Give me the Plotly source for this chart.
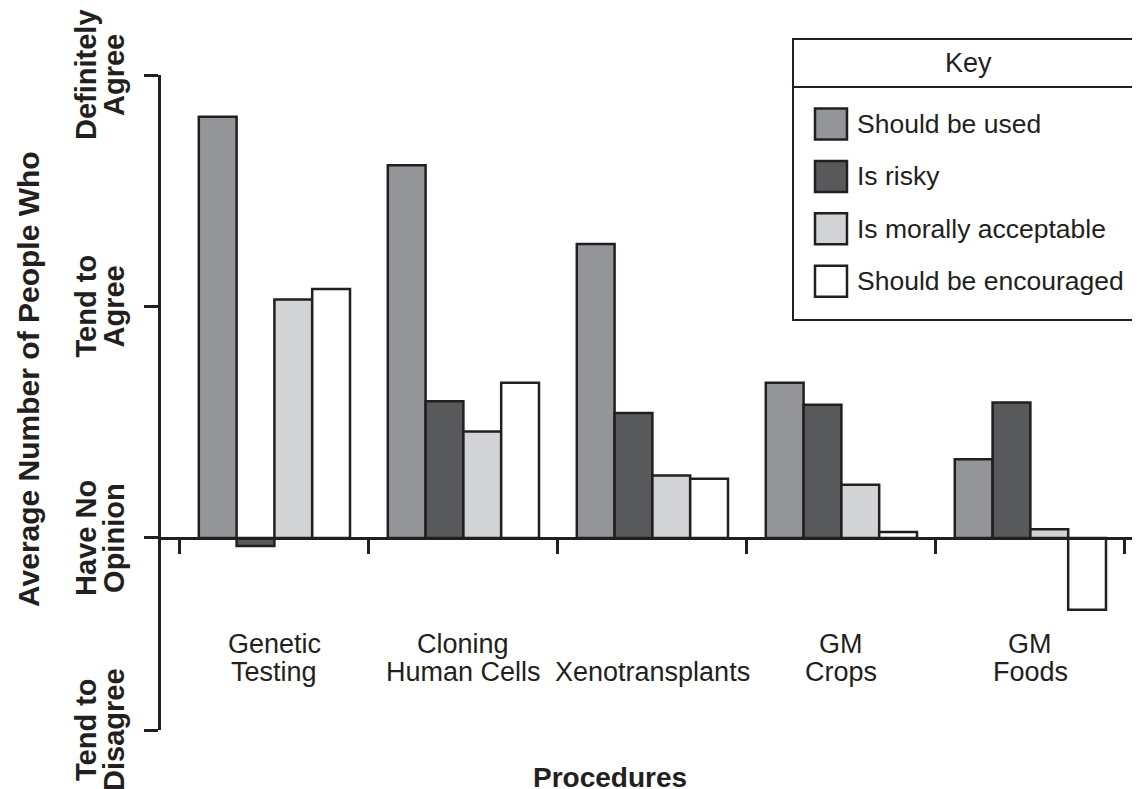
import plotly.graph_objects as go

# ---------------- data ----------------
categories = [["Genetic", "Testing"], ["Cloning", "Human Cells"], ["Xenotransplants"],
              ["GM", "Crops"], ["GM", "Foods"]]
series_names = ["Should be used", "Is risky", "Is morally acceptable", "Should be encouraged"]
should_be_used = [1.82, 1.61, 1.27, 0.67, 0.34]
is_risky = [-0.035, 0.59, 0.54, 0.575, 0.585]
morally_acceptable = [1.03, 0.46, 0.27, 0.23, 0.037]
should_be_encouraged = [1.075, 0.67, 0.256, 0.025, -0.31]
y_tick_values = [2, 1, 0, -0.83]
y_tick_labels = [["Definitely", "Agree"], ["Tend to", "Agree"], ["Have No", "Opinion"],
                 ["Tend to", "Disagree"]]
y_title = "Average Number of People Who"
x_title = "Procedures"
key_title = "Key"

series_values = [should_be_used, is_risky, morally_acceptable, should_be_encouraged]
colors = ["#939598", "#58595b", "#d1d3d4", "#ffffff"]
edge = "#231f20"
FONT = "Liberation Sans, Arial, Helvetica, sans-serif"

OFF = 8  # page body margin
W, H = 1140 - OFF, 789 - OFF
ML, MR, MT, MB = 161 - OFF, 0, 75 - OFF, 59
PW, PH = W - ML - MR, H - MT - MB


def px_x(xp):
    return (xp - OFF - ML) / PW


def px_y(yp):
    return (H - MB - (yp - OFF)) / PH


xpos = list(range(len(categories)))
fig = go.Figure()
for name, vals, col in zip(series_names, series_values, colors):
    fig.add_trace(go.Bar(x=xpos, y=vals, name=name, showlegend=False,
                         marker=dict(color=col, line=dict(color=edge, width=2.5))))

ymin, ymax = min(y_tick_values), max(y_tick_values)
fig.update_layout(
    width=W, height=H,
    margin=dict(l=ML, r=MR, t=MT, b=MB, pad=0),
    paper_bgcolor="white", plot_bgcolor="white",
    bargap=0.2, bargroupgap=0,
    font=dict(family=FONT, color=edge),
    xaxis=dict(range=[-0.6, 4.58], anchor="free", position=(0 - ymin) / (ymax - ymin),
               showline=True, linecolor=edge, linewidth=2.5, showgrid=False, zeroline=False,
               tickmode="array", tickvals=[i - 0.5 for i in range(len(categories) + 1)],
               ticktext=[""] * (len(categories) + 1), ticks="outside", ticklen=14,
               tickwidth=2.5, tickcolor=edge),
    yaxis=dict(range=[ymin, ymax], showline=True, linecolor=edge, linewidth=2.5,
               showgrid=False, zeroline=False, tickmode="array", tickvals=y_tick_values,
               ticktext=[""] * len(y_tick_values), ticks="outside", ticklen=14,
               tickwidth=2.5, tickcolor=edge),
)

ann = []
# y tick labels (rotated, two lines each); y position in reference pixels
y_pix = lambda v: 730 - (v - ymin) / (ymax - ymin) * PH
for v, lines in zip(y_tick_values, y_tick_labels):
    for j, line in enumerate(lines):
        ann.append(dict(text=f"<b>{line}</b>", x=px_x(86 + 28 * j), y=px_y(y_pix(v)),
                        xref="paper", yref="paper", textangle=-90, showarrow=False,
                        xanchor="center", yanchor="middle",
                        font=dict(size=29, family=FONT, color=edge)))
# y title
ann.append(dict(text=f"<b>{y_title}</b>", x=px_x(28), y=px_y(379), xref="paper", yref="paper",
                textangle=-90, showarrow=False, xanchor="center", yanchor="middle",
                font=dict(size=30, family=FONT, color=edge)))
# category labels
for i, lines in enumerate(categories):
    for j, line in enumerate(lines):
        ann.append(dict(text=line, x=xpos[i], y=px_y(672 if len(lines) == 1 else 644 + 28 * j),
                        xref="x", yref="paper", showarrow=False, xanchor="center",
                        yanchor="middle", font=dict(size=27, family=FONT, color=edge)))
# x title
ann.append(dict(text=f"<b>{x_title}</b>", x=px_x(610), y=px_y(777), xref="paper", yref="paper",
                showarrow=False, xanchor="center", yanchor="middle",
                font=dict(size=28, family=FONT, color=edge)))

# key box
shapes = [
    dict(type="rect", xref="paper", yref="paper", x0=px_x(793), x1=px_x(1145),
         y0=px_y(320), y1=px_y(39), line=dict(color=edge, width=2), fillcolor="white"),
    dict(type="line", xref="paper", yref="paper", x0=px_x(793), x1=px_x(1145),
         y0=px_y(87), y1=px_y(87), line=dict(color=edge, width=2)),
]
ann.append(dict(text=key_title, x=px_x(968), y=px_y(63), xref="paper", yref="paper",
                showarrow=False, xanchor="center", yanchor="middle",
                font=dict(size=27, family=FONT, color=edge)))
for k, (name, col) in enumerate(zip(series_names, colors)):
    cy = 124 + 52.4 * k
    shapes.append(dict(type="rect", xref="paper", yref="paper", x0=px_x(815), x1=px_x(847),
                       y0=px_y(cy + 15.5), y1=px_y(cy - 15.5),
                       line=dict(color=edge, width=2.5), fillcolor=col))
    ann.append(dict(text=name, x=px_x(855), y=px_y(cy), xref="paper", yref="paper",
                    showarrow=False, xanchor="left", yanchor="middle",
                    font=dict(size=26.5, family=FONT, color=edge)))

fig.update_layout(annotations=ann, shapes=shapes)
fig.write_html("out.html")
